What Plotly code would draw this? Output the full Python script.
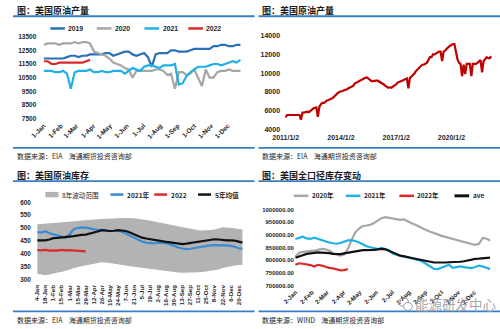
import plotly.graph_objects as go
import pandas as pd

W, H = 500, 329
def X(px): return px / W
def Y(py): return 1 - py / H

# ---------------- data ----------------
# Panel 1: US crude production, weekly (kb/d)
P1_NAMES = ["2019", "2020", "2021", "2022"]
P1_2019 = [11900, 11900, 11900, 11900, 11900, 11900, 12000, 12100, 12100, 12000, 12100, 12100, 12200,
           12200, 12200, 12200, 12300, 12300, 12100, 12200, 12300, 12400, 12400, 12200, 12100, 12200,
           12300, 12000, 11300, 12200, 12300, 12300, 12300, 12500, 12500, 12400, 12400, 12400, 12500,
           12600, 12600, 12600, 12600, 12600, 12800, 12800, 12900, 12900, 12800, 12800, 12900, 12900]
P1_2020 = [12900, 13000, 13000, 13000, 12900, 13000, 13000, 13000, 13100, 13000, 13100, 13100, 13000,
           12400, 12300, 12200, 12100, 11900, 11600, 11500, 11400, 11200, 11100, 10500, 11000, 11000,
           11000, 11000, 11000, 11100, 11100, 11000, 10700, 10800, 9700, 10900, 10900, 10700, 10800,
           11100, 10500, 9900, 11100, 10500, 10500, 10900, 11000, 11000, 11100, 11000, 11000, 11000]
P1_2021 = [11000, 11000, 11000, 10900, 10900, 11000, 10800, 9700, 10900, 11000, 11000, 11000, 11100,
           10900, 10900, 11000, 10900, 10900, 11000, 11000, 11000, 10800, 11000, 11200, 11100, 11000,
           11300, 11400, 11400, 11300, 11200, 11400, 11400, 11400, 11500, 10000, 10100, 10600, 10900,
           11100, 11300, 11300, 11300, 11400, 11500, 11500, 11400, 11500, 11600, 11700, 11600, 11800]
P1_2022 = [11700, 11700, 11500, 11500, 11600, 11600, 11600, 11600, 11600, 11600, 11600, 11700, 11800]

# Panel 2: US crude production, monthly 2011-01 .. 2022-03 (kb/d)
P2_VALUES = [5300, 5550, 5550, 5550, 5600, 5550, 5550, 5550, 5600, 5550, 5050, 5800,
             5800, 5850, 5900, 5850, 5950, 6100, 6250, 6300, 6350, 5350, 6450, 6700,
             6850, 6850, 7000, 7100, 7150, 7200, 7300, 7400, 7600, 7800, 7900, 8000,
             8050, 8100, 8150, 8250, 8300, 8400, 8500, 8550, 8650, 8900, 9000, 9100,
             9200, 9250, 9350, 9400, 9500, 9550, 9450, 9300, 9150, 9150, 9200, 9200,
             9200, 9100, 9050, 8950, 8800, 8650, 8500, 8450, 8500, 8450, 8600, 8700,
             8800, 9000, 9100, 9150, 9200, 9300, 9400, 9450, 8400, 9500, 9650, 9800,
             10000, 10250, 10400, 10550, 10750, 10900, 10900, 11000, 11100, 11400, 11700, 11700,
             12000, 12000, 12100, 12200, 12300, 12300, 11300, 12300, 12400, 12600, 12800, 12900,
             13000, 13100, 13100, 12300, 11500, 11100, 11000, 9700, 10900, 9900, 11000, 11000,
             11000, 9700, 11000, 11000, 11000, 11100, 11300, 11400, 10100, 11300, 11500, 11700,
             11600, 11600, 11800]
P2_TICK_DATES = ["2011-01-02", "2014-01-02", "2017-01-02", "2020-01-02"]
P2_TICK_TEXT = ["2011/1/2", "2014/1/2", "2017/1/2", "2020/1/2"]

# Panel 3: US crude inventory, weekly (million bbl)
P3_NAMES = ["8年波动范围", "2021年", "2022", "5年均值"]
P3_UPPER = [515, 516, 518, 519, 520, 521, 522, 523, 525, 526, 528, 530, 532,
            533, 534, 535, 536, 536, 537, 537, 538, 539, 540, 539, 538, 536,
            535, 532, 530, 526, 523, 519, 515, 511, 508, 505, 502, 499, 496,
            494, 492, 491, 491, 493, 495, 500, 504, 503, 502, 500, 497, 495]
P3_LOWER = [323, 320, 317, 320, 325, 328, 330, 334, 340, 344, 349, 352, 356,
            359, 361, 364, 368, 367, 365, 363, 360, 358, 355, 352, 350, 347,
            345, 343, 341, 338, 336, 334, 332, 330, 329, 328, 327, 327, 328,
            328, 329, 330, 332, 334, 336, 340, 345, 349, 352, 355, 357, 358]
P3_2021 = [485, 483, 488, 480, 476, 470, 467, 463, 476, 495, 501, 502, 502,
           499, 495, 493, 493, 490, 489, 489, 489, 486, 478, 470, 463, 455,
           448, 444, 442, 441, 444, 443, 442, 437, 430, 425, 421, 419, 420,
           423, 426, 429, 431, 433, 434, 434, 434, 433, 431, 428, 422, 420]
P3_2022 = [415, 414, 416, 413, 414, 413, 416, 414, 415, 414, 413, 411, 410]
P3_AVG = [453, 452, 453, 456, 461, 462, 463, 465, 467, 469, 472, 474, 475,
          478, 483, 487, 492, 490, 489, 490, 492, 491, 489, 483, 476, 470,
          463, 460, 457, 455, 453, 450, 447, 445, 442, 440, 438, 440, 442,
          444, 447, 449, 451, 454, 457, 456, 454, 453, 453, 452, 448, 444]

# Panel 4: US total inventory, weekly (thousand bbl)
P4_NAMES = ["2020年", "2021年", "2022年", "ave"]
P4_2020 = [815000, 830000, 833000, 834000, 836000, 838000, 841000, 845000, 843000, 838000, 828000, 822000, 818000,
           822000, 845000, 880000, 910000, 925000, 935000, 937000, 940000, 947000, 958000, 966000, 970000, 968000,
           966000, 962000, 959000, 961000, 952000, 946000, 940000, 932000, 926000, 918000, 912000, 908000, 902000,
           896000, 892000, 888000, 882000, 878000, 875000, 872000, 866000, 864000, 861000, 865000, 888000, 885000, 878000]
P4_2021 = [884000, 890000, 893000, 886000, 884000, 889000, 884000, 878000, 875000, 870000, 867000, 865000, 868000,
           873000, 878000, 878000, 876000, 870000, 862000, 855000, 851000, 848000, 844000, 849000, 845000, 839000,
           826000, 820000, 817000, 815000, 811000, 809000, 806000, 800000, 794000, 784000, 774000, 766000, 765000,
           771000, 778000, 782000, 770000, 772000, 776000, 773000, 771000, 769000, 773000, 779000, 775000, 770000, 765000]
P4_2022 = [782000, 788000, 786000, 784000, 781000, 775000, 782000, 779000, 774000, 770000, 768000, 765000, 760000,
           761000, 765000]
P4_AVG = [810000, 816000, 821000, 825000, 827000, 830000, 831000, 830000, 830000, 828000, 825000, 824000, 824000,
          827000, 830000, 833000, 836000, 839000, 840000, 840000, 840000, 841000, 843000, 845000, 843000, 837000,
          828000, 822000, 818000, 815000, 811000, 809000, 806000, 803000, 800000, 796000, 793000, 791000, 791000,
          790000, 791000, 792000, 792000, 792000, 794000, 796000, 800000, 803000, 805000, 806000, 807000, 809000, 810000]

TITLES = ["图：美国原油产量", "图：美国原油产量", "图：美国原油库存", "图：美国全口径库存变动"]
SOURCES = ["数据来源：EIA    海通期货投资咨询部", "数据来源：EIA    海通期货投资咨询部",
           "数据来源：EIA    海通期货投资咨询部", "数据来源：WIND    海通期货投资咨询部"]
WATERMARK = "能源研发中心"

# ---------------- styles ----------------
DARK_BLUE = "#2b70b9"
GRAY = "#a6a6a6"
CYAN = "#1fb1e6"
RED = "#dc2a2a"
DARK_RED = "#c00000"
MID_BLUE = "#3b8ad6"
BLACK = "#111111"
BAND = "#b3b3b3"
HEAD = "#3a7fc1"
LAT = "Liberation Sans, Arial, sans-serif"
CJK = "Noto Sans CJK SC, sans-serif"

def tf(size):
    return dict(family=LAT, size=size, color="#262626", weight="bold")

def weeks(start, n):
    return pd.date_range(start, periods=n, freq="7D")

fig = go.Figure()

def line(xs, ys, color, width, ax):
    fig.add_trace(go.Scatter(x=xs, y=ys, mode="lines", line=dict(color=color, width=width),
                             xaxis="x" + ax, yaxis="y" + ax, showlegend=False, hoverinfo="skip"))

# Panel 1
line(weeks("2021-01-01", len(P1_2019)), P1_2019, DARK_BLUE, 2.2, "")
line(weeks("2021-01-01", len(P1_2020)), P1_2020, GRAY, 2.2, "")
line(weeks("2021-01-01", len(P1_2021)), P1_2021, CYAN, 2.2, "")
line(weeks("2021-01-01", len(P1_2022)), P1_2022, RED, 2.2, "")

# Panel 2
line(pd.date_range("2011-01-01", periods=len(P2_VALUES), freq="MS"), P2_VALUES, DARK_RED, 2.2, "2")

# Panel 3
w3 = weeks("2021-01-04", len(P3_UPPER))
fig.add_trace(go.Scatter(x=w3, y=P3_LOWER, mode="lines", line=dict(width=0, color=BAND),
                         xaxis="x3", yaxis="y3", showlegend=False, hoverinfo="skip"))
fig.add_trace(go.Scatter(x=w3, y=P3_UPPER, mode="lines", line=dict(width=0, color=BAND),
                         fill="tonexty", fillcolor=BAND, xaxis="x3", yaxis="y3",
                         showlegend=False, hoverinfo="skip"))
line(weeks("2021-01-04", len(P3_2021)), P3_2021, MID_BLUE, 2.2, "3")
line(weeks("2021-01-04", len(P3_2022)), P3_2022, RED, 2.2, "3")
line(weeks("2021-01-04", len(P3_AVG)), P3_AVG, BLACK, 2.2, "3")

# Panel 4
line(weeks("2021-01-02", len(P4_2020)), P4_2020, GRAY, 2.2, "4")
line(weeks("2021-01-02", len(P4_2021)), P4_2021, CYAN, 2.2, "4")
line(weeks("2021-01-02", len(P4_2022)), P4_2022, RED, 2.2, "4")
line(weeks("2021-01-02", len(P4_AVG)), P4_AVG, BLACK, 2.2, "4")

base = dict(showgrid=False, zeroline=False, showline=False, ticks="", fixedrange=True)

layout = dict(
    width=W, height=H, margin=dict(l=0, r=0, t=0, b=0),
    paper_bgcolor="white", plot_bgcolor="white", showlegend=False,
    xaxis=dict(base, domain=[X(31.1), X(237.5)], anchor="y", type="date",
               range=["2020-12-31", "2021-12-31"], tick0="2021-01-01", dtick="M1",
               tickformat="%-d-%b", tickangle=-45, tickfont=tf(6.5), ticklabelstandoff=1),
    yaxis=dict(base, domain=[Y(117.3), Y(33.3)], anchor="x", range=[7500, 13500],
               tick0=7500, dtick=1000, tickformat="d", tickfont=tf(6.5), ticklabelstandoff=6),
    xaxis2=dict(base, domain=[X(279.3), X(492)], anchor="y2", type="date",
                range=["2010-12-20", "2022-03-21"], tickvals=P2_TICK_DATES, ticktext=P2_TICK_TEXT,
                tickangle=0, tickfont=tf(7), ticklabelstandoff=2),
    yaxis2=dict(base, domain=[Y(128.3), Y(32.3)], anchor="x2", range=[4000, 14000],
                tick0=4000, dtick=2000, tickformat="d", tickfont=tf(7), ticklabelstandoff=4),
    xaxis3=dict(base, domain=[X(24.4), X(235.8)], anchor="y3", type="date",
                range=["2021-01-03", "2021-12-27"], tick0="2021-01-04", dtick=14 * 86400000,
                tickformat="%-d-%b", tickangle=-90, tickfont=tf(6.2), ticklabelstandoff=3),
    yaxis3=dict(base, domain=[Y(281.7), Y(202.7)], anchor="x3", range=[300, 600],
                tick0=300, dtick=50, tickformat="d", tickfont=tf(6.3), ticklabelstandoff=5),
    xaxis4=dict(base, domain=[X(289.4), X(490)], anchor="y4", type="date",
                range=["2021-01-01", "2022-01-01"], tick0="2021-01-02", dtick="M1",
                tickformat="%-d-%b", tickangle=-45, tickfont=tf(6.2), ticklabelstandoff=1),
    yaxis4=dict(base, domain=[Y(287.7), Y(210)], anchor="x4", range=[700000, 1000000],
                tick0=700000, dtick=50000, tickformat=".2f", tickfont=tf(6), ticklabelstandoff=0),
)
fig.update_layout(**layout)

shapes = []
annotations = []

def hline(x0, x1, y, color, width):
    shapes.append(dict(type="line", xref="paper", yref="paper", x0=X(x0), x1=X(x1),
                       y0=Y(y), y1=Y(y), line=dict(color=color, width=width)))

def text(x, y, s, size, color="#1f1f1f", family=CJK, anchor="left", weight="normal"):
    annotations.append(dict(xref="paper", yref="paper", x=X(x), y=Y(y), text=s, showarrow=False,
                            xanchor=anchor, yanchor="middle",
                            font=dict(family=family, size=size, color=color, weight=weight)))

# headers / footers
for i, (x0, x1, ty, fy) in enumerate([(0, 248, 12.5, 147), (252, 500, 12.5, 147),
                                      (0, 248, 181, 314), (252, 500, 181, 314)]):
    hline(x0, x1, ty, HEAD, 1.8)
    hline(x0, x1, fy, HEAD, 1.8)
    text(x0 + 2, ty - 6, TITLES[i], 9, "#1a1a1a", weight="bold")
    text(x0 + 2, fy + 8.5, SOURCES[i], 7, "#262626")

# legend panel 1
p1_cols = [DARK_BLUE, GRAY, CYAN, RED]
for name, col, lx in zip(P1_NAMES, p1_cols, [38.3, 86, 135, 180]):
    hline(lx, lx + 15, 25, col, 2.5)
    text(lx + 16.5, 25, name, 6.8, "#262626", family=LAT, weight="bold")

# legend panel 3
shapes.append(dict(type="rect", xref="paper", yref="paper", x0=X(33.3), x1=X(46.7),
                   y0=Y(197.5), y1=Y(192), fillcolor=BAND, line=dict(width=0)))
text(48.5, 194.7, P3_NAMES[0], 6.6, "#262626")
for name, col, lx in zip(P3_NAMES[1:], [MID_BLUE, RED, BLACK], [100, 145, 190]):
    hline(lx, lx + 13.3, 194.7, col, 2.5)
    text(lx + 15, 194.7, name, 6.6, "#262626", weight="bold")

# legend panel 4
for name, col, lx in zip(P4_NAMES, [GRAY, CYAN, RED, BLACK], [288.3, 341.7, 396.7, 453.3]):
    hline(lx, lx + 15, 196, col, 2.5 if col != BLACK else 3)
    text(lx + 16.5, 196, name, 6.4, "#262626", weight="bold")

# watermark
shapes.append(dict(type="circle", xref="paper", yref="paper", x0=X(396), x1=X(406),
                   y0=Y(309), y1=Y(300), line=dict(color="#9a9a9a", width=1)))
shapes.append(dict(type="circle", xref="paper", yref="paper", x0=X(401), x1=X(410),
                   y0=Y(313), y1=Y(305), line=dict(color="#9a9a9a", width=1), fillcolor="white"))
text(411, 306.5, WATERMARK, 13.5, "rgba(150,150,150,0.85)")

fig.update_layout(shapes=shapes, annotations=annotations)
fig.write_html("out.html")
